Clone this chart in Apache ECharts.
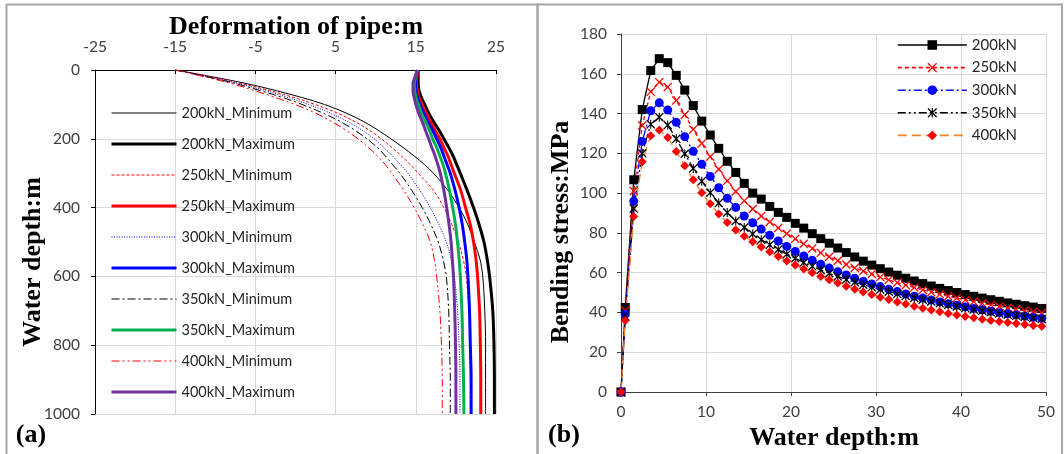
<!DOCTYPE html>
<html>
<head>
<meta charset="utf-8">
<script src="https://cdn.jsdelivr.net/npm/echarts@6/dist/echarts.min.js"></script>
<style>
html,body{margin:0;padding:0;background:#fff;}
#c{width:1064px;height:454px;}
</style>
</head>
<body>
<div id="c"></div>
<script>
// ---------- Panel (a): deformation of pipe vs water depth ----------
const depths = [0,20,40,60,80,100,125,150,175,200,225,250,275,300,350,400,450,500,550,600,700,800,900,1000];
const min200 = [-15,-10.3,-6.0,-2.4,0.8,3.6,6.3,8.5,10.3,11.9,13.4,14.8,16.1,17.2,19.0,20.4,21.5,22.3,23.0,23.35,23.6,23.7,23.7,23.7];
const max200 = [15.3,15.3,15.3,15.4,15.7,16.1,16.6,17.2,17.9,18.5,19.1,19.65,20.1,20.55,21.4,22.2,22.9,23.5,23.9,24.2,24.6,24.75,24.8,24.8];
const min250 = [-15,-10.6,-6.6,-3.2,-0.2,2.4,5.2,7.4,9.2,10.7,12.0,13.2,14.3,15.3,17.2,18.5,19.5,20.3,20.9,21.3,21.6,21.7,21.8,21.8];
const max250 = [15.2,15.15,15.1,15.2,15.4,15.8,16.3,16.85,17.4,18.0,18.5,19.0,19.4,19.8,20.6,21.2,21.8,22.2,22.5,22.7,22.95,23.05,23.1,23.1];
const min300 = [-15,-10.8,-7.0,-3.8,-0.9,1.6,4.3,6.5,8.3,9.8,11.0,12.1,13.1,14.0,15.5,16.8,17.9,18.8,19.4,19.8,20.2,20.4,20.5,20.5];
const max300 = [15.2,15.05,14.95,15.0,15.2,15.5,16.0,16.5,17.1,17.6,18.1,18.5,18.9,19.3,19.9,20.4,20.8,21.1,21.35,21.5,21.7,21.8,21.9,21.9];
const min350 = [-15,-11.0,-7.4,-4.4,-1.6,0.8,3.4,5.6,7.4,8.9,10.2,11.2,12.1,13.0,14.5,15.8,16.9,17.8,18.4,18.8,19.1,19.2,19.3,19.3];
const max350 = [15.2,15.0,14.8,14.85,15.0,15.3,15.7,16.2,16.7,17.1,17.6,18.0,18.4,18.7,19.2,19.6,19.95,20.2,20.4,20.55,20.75,20.85,20.95,21.0];
const min400 = [-15,-11.3,-7.9,-5.1,-2.5,-0.1,2.5,4.5,6.3,7.8,9.1,10.2,11.2,12.0,13.5,14.8,15.9,16.8,17.3,17.6,18.0,18.2,18.3,18.3];
const max400 = [15.2,14.9,14.65,14.65,14.8,15.0,15.35,15.8,16.2,16.6,17.0,17.4,17.75,18.05,18.5,18.85,19.15,19.4,19.55,19.7,19.85,19.95,20.0,20.0];
const leftNames = ['200kN_Minimum','200kN_Maximum','250kN_Minimum','250kN_Maximum','300kN_Minimum','300kN_Maximum','350kN_Minimum','350kN_Maximum','400kN_Minimum','400kN_Maximum'];

// ---------- Panel (b): bending stress vs water depth ----------
const depthB = [0,0.5,1.5,2.5,3.5,4.5,5.5,6.5,7.5,8.5,9.5,10.5,11.5,12.5,13.5,14.5,15.5,16.5,17.5,18.5,19.5,20.5,21.5,22.5,23.5,24.5,25.5,26.5,27.5,28.5,29.5,30.5,31.5,32.5,33.5,34.5,35.5,36.5,37.5,38.5,39.5,40.5,41.5,42.5,43.5,44.5,45.5,46.5,47.5,48.5,49.5];
const s200 = [0,42.5,106.7,142,161.6,167.6,165.6,159.2,151.8,144.0,136.2,129.2,122.5,116.0,110.4,104.9,100.0,97.0,93.3,90.3,87.8,84.8,82.4,79.6,77.1,74.8,72.4,70.1,67.9,65.8,63.8,62.0,60.3,58.7,57.2,55.8,54.5,53.3,52.1,51.0,50.0,49.0,48.1,47.2,46.4,45.6,44.8,44.1,43.4,42.7,42.0];
const s250 = [0,41,101,134,151,155.8,153.3,146.6,139.4,132.0,125.0,118.3,112.0,106.2,100.8,96.1,92.0,88.5,85.5,82.5,79.6,77.0,74.5,72.2,70.0,68.0,66.0,64.1,62.4,60.8,59.3,57.8,56.4,55.0,53.7,52.5,51.3,50.2,49.1,48.1,47.2,46.3,45.4,44.6,43.8,43.0,42.3,41.6,40.9,40.3,39.7];
const s300 = [0,39,96,126,141.4,145.4,141.8,135.6,128.4,121.0,114.5,108.4,102.7,97.4,92.8,88.5,85.1,81.9,78.8,75.9,73.2,70.7,68.4,66.3,64.2,62.3,60.5,58.8,57.2,55.7,54.3,53.0,51.7,50.5,49.3,48.2,47.2,46.2,45.3,44.4,43.6,42.8,42.0,41.3,40.6,39.9,39.3,38.7,38.1,37.5,37.0];
const s350 = [0,38,92.2,120,134.6,138.2,134.2,127.3,119.8,112.4,106.0,100.2,95.0,90.2,86.0,82.7,79.5,76.6,74.0,71.6,69.3,67.2,65.1,63.2,61.4,59.7,58.1,56.6,55.2,53.9,52.7,51.5,50.4,49.3,48.3,47.3,46.4,45.5,44.6,43.8,43.0,42.2,41.5,40.8,40.1,39.5,38.9,38.3,37.8,37.2,36.7];
const s400 = [0,36,88.3,115.8,128.9,131.7,128.0,120.9,113.7,106.7,100.2,94.6,89.5,85.2,81.4,78.3,75.5,72.9,70.5,68.1,65.9,63.8,61.8,59.9,58.1,56.4,54.8,53.2,51.7,50.3,49.0,47.7,46.5,45.3,44.2,43.1,42.1,41.2,40.3,39.5,38.7,38.0,37.3,36.6,36.0,35.4,34.9,34.4,33.9,33.4,33.0];
const rightNames = ['200kN','250kN','300kN','350kN','400kN'];

// ---------- build ----------
const LABEL_FONT = 'Lato';
const SERIF = '"Liberation Serif","Times New Roman",serif';
const GRIDC = '#d9d9d9';
const AXC = '#404040';

function pairsA(vals){ return depths.map((d,i)=>[vals[i], d]); }
function pairsB(vals){ return depthB.map((x,i)=>[x, vals[i]]); }

const leftSpecs = [
  {v:min200, color:'#000000', w:1, type:'solid'},
  {v:max200, color:'#000000', w:3, type:'solid'},
  {v:min250, color:'#ff0000', w:1, type:[3,2]},
  {v:max250, color:'#ff0000', w:3, type:'solid'},
  {v:min300, color:'#0000ff', w:1, type:[1,1.5]},
  {v:max300, color:'#0000ff', w:3, type:'solid'},
  {v:min350, color:'#000000', w:1, type:[8,3,2,3]},
  {v:max350, color:'#00b050', w:3, type:'solid'},
  {v:min400, color:'#ff0000', w:1, type:[8,3,2,3,2,3]},
  {v:max400, color:'#7030a0', w:3, type:'solid'}
];

const X_PATH = 'path://M1,0 L5,4 L9,0 L10,1 L6,5 L10,9 L9,10 L5,6 L1,10 L0,9 L4,5 L0,1 Z';
const STAR_PATH = 'path://M1,0 L5,4 L9,0 L10,1 L6,5 L10,9 L9,10 L5,6 L1,10 L0,9 L4,5 L0,1 Z M4.4,0 L5.6,0 L5.6,10 L4.4,10 Z';

const rightSpecs = [
  {v:s200, line:'#000000', type:'solid', sym:'rect', size:9, mcolor:'#000000'},
  {v:s250, line:'#ff0000', type:[4,3], sym:X_PATH, size:9, mcolor:'#ff0000'},
  {v:s300, line:'#0000ff', type:[8,3,2,3], sym:'circle', size:9, mcolor:'#0000ff'},
  {v:s350, line:'#000000', type:[8,3,2,3,2,3], sym:STAR_PATH, size:9, mcolor:'#000000'},
  {v:s400, line:'#f4802a', type:[9,5], sym:'diamond', size:9, mcolor:'#ff0000'}
];

const series = [];
leftSpecs.forEach((s,i)=>{
  series.push({
    name: leftNames[i], type:'line', xAxisIndex:0, yAxisIndex:0,
    data: pairsA(s.v), smooth:0.35, symbol:'none', animation:false,
    lineStyle:{color:s.color, width:s.w, type:s.type},
    itemStyle:{color:s.color}
  });
});
rightSpecs.forEach((s,i)=>{
  series.push({
    name: rightNames[i], type:'line', xAxisIndex:1, yAxisIndex:1,
    data: pairsB(s.v), symbol:s.sym, symbolSize:s.size, showSymbol:true, animation:false,
    lineStyle:{color:s.line, width:1.3, type:s.type},
    itemStyle:{color:s.mcolor, borderWidth:0}
  });
});

const tickLabel = {fontFamily:LABEL_FONT, fontSize:15.5, color:AXC, formatter:v=>String(v)};

const option = {
  animation:false,
  backgroundColor:'#ffffff',
  grid:[
    {left:95, top:70, width:401, height:344},
    {left:621, top:34, width:425, height:358}
  ],
  xAxis:[
    {gridIndex:0, type:'value', position:'top', min:-25, max:25, interval:10,
     axisLine:{show:true, onZero:false, lineStyle:{color:'#000', width:1}},
     axisTick:{show:true, inside:true, length:4, lineStyle:{color:'#000'}},
     axisLabel:Object.assign({margin:15}, tickLabel),
     splitLine:{show:true, lineStyle:{color:GRIDC, width:1}}},
    {gridIndex:1, type:'value', min:0, max:50, interval:10,
     axisLine:{show:true, onZero:false, lineStyle:{color:AXC, width:1}},
     axisTick:{show:true, length:4, lineStyle:{color:AXC}},
     axisLabel:Object.assign({margin:12}, tickLabel),
     splitLine:{show:true, lineStyle:{color:GRIDC, width:1}}}
  ],
  yAxis:[
    {gridIndex:0, type:'value', inverse:true, min:0, max:1000, interval:200,
     axisLine:{show:true, onZero:false, lineStyle:{color:'#000', width:1}},
     axisTick:{show:true, length:4, lineStyle:{color:'#000'}},
     axisLabel:Object.assign({margin:15}, tickLabel),
     splitLine:{show:true, lineStyle:{color:GRIDC, width:1}}},
    {gridIndex:1, type:'value', min:0, max:180, interval:20,
     axisLine:{show:true, onZero:false, lineStyle:{color:AXC, width:1}},
     axisTick:{show:true, length:4, lineStyle:{color:AXC}},
     axisLabel:Object.assign({margin:14}, tickLabel),
     splitLine:{show:true, lineStyle:{color:GRIDC, width:1}}}
  ],
  legend:[
    {data:leftNames.map((n,i)=>({name:n, lineStyle:{width:leftSpecs[i].w}})),
     orient:'vertical', left:105, top:100.5, itemWidth:65, itemHeight:14, itemGap:16,
     itemStyle:{opacity:0},
     textStyle:{fontFamily:LABEL_FONT, fontSize:14.5, color:'#262626'}, selectedMode:false},
    {data:rightNames.map(n=>({name:n, lineStyle:{width:1.6}})),
     orient:'vertical', left:892, top:32.5, itemWidth:69, itemHeight:12, itemGap:7.6,
     textStyle:{fontFamily:LABEL_FONT, fontSize:15, color:'#262626'}, selectedMode:false}
  ],
  graphic:[
    {type:'rect', silent:true, shape:{x:6.5, y:4.5, width:531, height:470}, style:{fill:'none', stroke:'#a6a6a6', lineWidth:2}},
    {type:'rect', silent:true, shape:{x:537.5, y:4.5, width:524.5, height:470}, style:{fill:'none', stroke:'#a6a6a6', lineWidth:2}},
    {type:'text', x:296, y:27, style:{text:'Deformation of pipe:m', font:'bold 26px '+SERIF, fill:'#000', align:'center', verticalAlign:'middle'}},
    {type:'text', x:33.5, y:262, rotation:Math.PI/2, style:{text:'Water depth:m', font:'bold 26px '+SERIF, fill:'#000', align:'center', verticalAlign:'middle'}},
    {type:'text', x:561, y:232, rotation:Math.PI/2, style:{text:'Bending stress:MPa', font:'bold 26px '+SERIF, fill:'#000', align:'center', verticalAlign:'middle'}},
    {type:'text', x:834, y:438, style:{text:'Water depth:m', font:'bold 26px '+SERIF, fill:'#000', align:'center', verticalAlign:'middle'}},
    {type:'text', x:31, y:435, style:{text:'(a)', font:'bold 26px '+SERIF, fill:'#000', align:'center', verticalAlign:'middle'}},
    {type:'text', x:564, y:435, style:{text:'(b)', font:'bold 26px '+SERIF, fill:'#000', align:'center', verticalAlign:'middle'}}
  ],
  series:series
};

const chart = echarts.init(document.getElementById('c'), null, {renderer:'canvas'});
chart.setOption(option);
</script>
</body>
</html>
